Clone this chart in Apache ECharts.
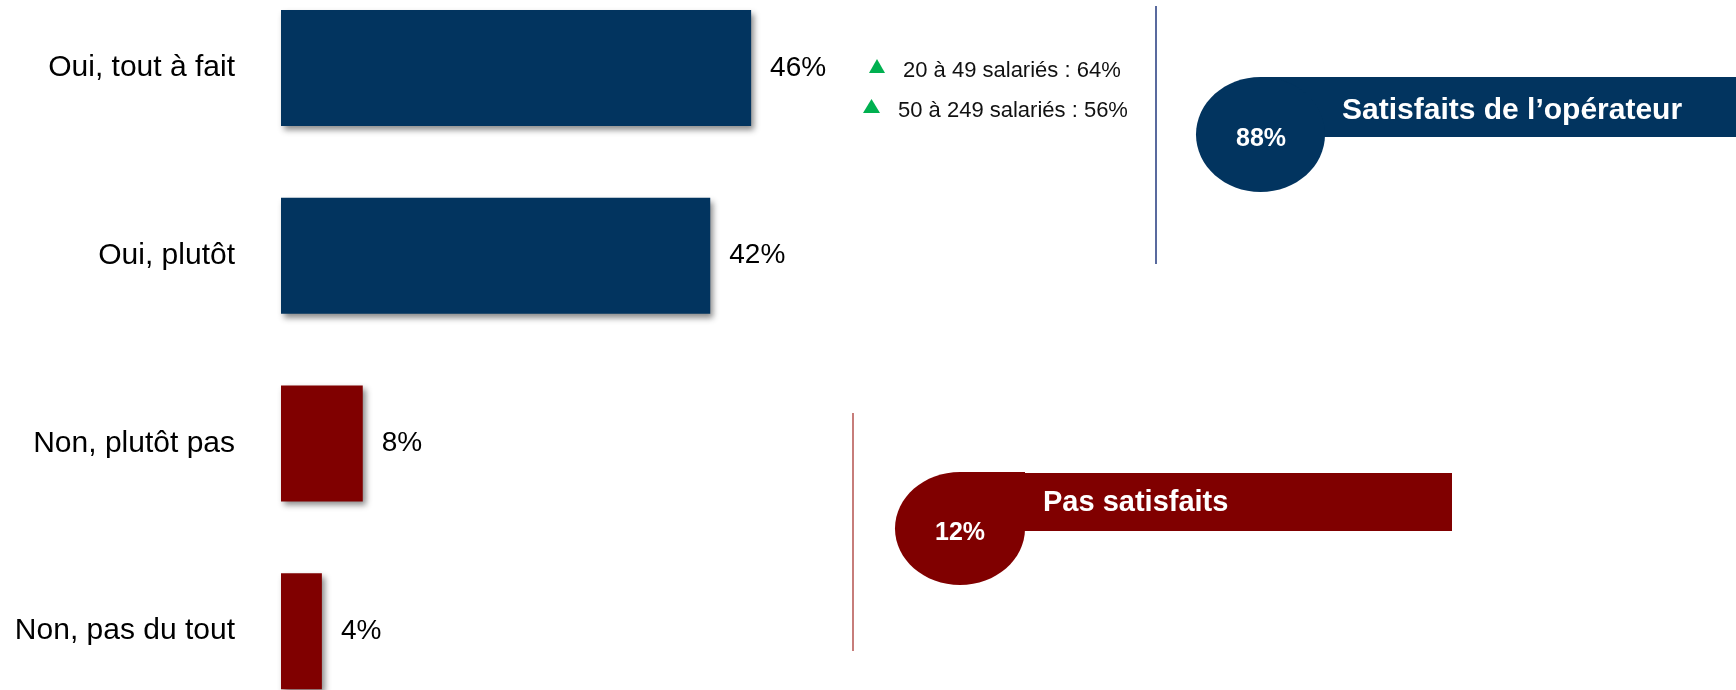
<!DOCTYPE html>
<html>
<head>
<meta charset="utf-8">
<script src="https://cdn.jsdelivr.net/npm/echarts@6/dist/echarts.min.js"></script>
<style>
  html, body { margin: 0; padding: 0; background: #fff; overflow: hidden; width: 1736px; height: 690px; position: relative; }
  #chart { position: absolute; left: 0; top: -26px; width: 1736px; height: 751px; }
</style>
</head>
<body>
<div id="chart"></div>
<script>
// ---- data ----
const categories = ['Oui, tout à fait', 'Oui, plutôt', 'Non, plutôt pas', 'Non, pas du tout'];
const values = [46, 42, 8, 4];
const groupOf = ['sat', 'sat', 'non', 'non'];
const summaryLabels = ['Satisfaits de l’opérateur', 'Pas satisfaits'];
const subLabels = ['20 à 49 salariés', '50 à 249 salariés'];
const subValues = [64, 56];

// derived
const satisfied = values.filter((v, i) => groupOf[i] === 'sat').reduce((a, b) => a + b, 0);
const notSatisfied = values.filter((v, i) => groupOf[i] === 'non').reduce((a, b) => a + b, 0);

const NAVY = '#02345F';
const RED = '#800000';
const FONT = "'Liberation Sans', Arial, sans-serif";
const OY = 26; // container is shifted up by this many pixels

const chart = echarts.init(document.getElementById('chart'));

const graphics = [
  // blue separator line
  { type: 'line', shape: { x1: 1156, y1: 6 + OY, x2: 1156, y2: 264 + OY }, style: { stroke: '#22387E', lineWidth: 1.5 } },
  // red separator line
  { type: 'line', shape: { x1: 853, y1: 413 + OY, x2: 853, y2: 651 + OY }, style: { stroke: '#B5524E', lineWidth: 1.5 } },
  // satisfied callout
  { type: 'rect', shape: { x: 1260, y: 77 + OY, width: 476, height: 60 }, style: { fill: NAVY } },
  { type: 'rect', shape: { x: 1260, y: 77 + OY, width: 65, height: 58 }, style: { fill: NAVY } },
  { type: 'ellipse', shape: { cx: 1260.5, cy: 134.5 + OY, rx: 64.5, ry: 57.5 }, style: { fill: NAVY } },
  { type: 'text', x: 1342, y: 111 + OY, style: { text: summaryLabels[0], fill: '#fff', font: 'bold 30px ' + FONT, textAlign: 'left', textVerticalAlign: 'middle' } },
  { type: 'text', x: 1261, y: 139 + OY, style: { text: satisfied + '%', fill: '#fff', font: 'bold 25px ' + FONT, textAlign: 'center', textVerticalAlign: 'middle' } },
  // not satisfied callout
  { type: 'rect', shape: { x: 960, y: 473 + OY, width: 492, height: 58 }, style: { fill: RED } },
  { type: 'rect', shape: { x: 960, y: 472 + OY, width: 65, height: 57 }, style: { fill: RED } },
  { type: 'ellipse', shape: { cx: 960, cy: 528.5 + OY, rx: 65, ry: 56.5 }, style: { fill: RED } },
  { type: 'text', x: 1043, y: 503 + OY, style: { text: summaryLabels[1], fill: '#fff', font: 'bold 29px ' + FONT, textAlign: 'left', textVerticalAlign: 'middle' } },
  { type: 'text', x: 960, y: 533 + OY, style: { text: notSatisfied + '%', fill: '#fff', font: 'bold 25px ' + FONT, textAlign: 'center', textVerticalAlign: 'middle' } },
  // sub-group annotations
  { type: 'polygon', shape: { points: [[877, 59 + OY], [869, 73 + OY], [885, 73 + OY]] }, style: { fill: '#00B050' } },
  { type: 'text', x: 903, y: 71 + OY, style: { text: subLabels[0] + ' : ' + subValues[0] + '%', fill: '#111', font: '22px ' + FONT, textAlign: 'left', textVerticalAlign: 'middle' } },
  { type: 'polygon', shape: { points: [[871.5, 99 + OY], [863, 113 + OY], [880, 113 + OY]] }, style: { fill: '#00B050' } },
  { type: 'text', x: 898, y: 111 + OY, style: { text: subLabels[1] + ' : ' + subValues[1] + '%', fill: '#111', font: '22px ' + FONT, textAlign: 'left', textVerticalAlign: 'middle' } }
];

chart.setOption({
  animation: false,
  backgroundColor: '#fff',
  grid: { left: 281, right: 433, top: 0, bottom: 0, containLabel: false },
  xAxis: {
    type: 'value', min: 0, max: 100,
    show: false
  },
  yAxis: {
    type: 'category', data: categories, inverse: true,
    axisLine: { show: false }, axisTick: { show: false }, splitLine: { show: false },
    axisLabel: { margin: 46, fontSize: 30, fontFamily: FONT, color: '#000' }
  },
  series: [{
    type: 'bar',
    data: values,
    barWidth: 116,
    itemStyle: {
      color: p => groupOf[p.dataIndex] === 'sat' ? NAVY : RED,
      shadowColor: 'rgba(0,0,0,0.45)', shadowBlur: 6, shadowOffsetX: 3, shadowOffsetY: 4
    },
    label: {
      show: true, position: 'right', distance: 19,
      formatter: p => p.value + '%',
      fontSize: 28, fontFamily: FONT, color: '#000'
    }
  }],
  graphic: graphics
});
</script>
</body>
</html>
